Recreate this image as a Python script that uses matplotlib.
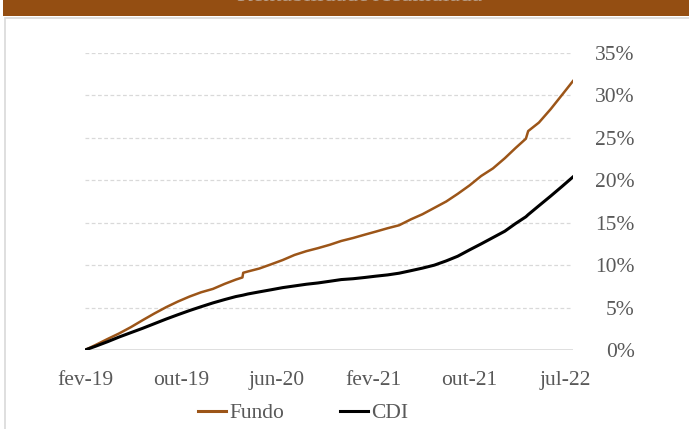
import matplotlib
matplotlib.use("Agg")
import matplotlib.pyplot as plt
import matplotlib.dates as mdates
from matplotlib.patches import Rectangle
from matplotlib.lines import Line2D
import pandas as pd

dates = ["2019-02-01", "2019-03-01", "2019-04-01", "2019-05-01", "2019-06-01", "2019-07-01",
         "2019-08-01", "2019-09-01", "2019-10-01", "2019-11-01", "2019-12-01", "2020-01-01",
         "2020-02-01", "2020-03-01", "2020-03-18", "2020-03-20", "2020-04-01", "2020-05-01",
         "2020-06-01", "2020-07-01", "2020-08-01", "2020-09-01", "2020-10-01", "2020-11-01",
         "2020-12-01", "2021-01-01", "2021-02-01", "2021-03-01", "2021-04-01", "2021-05-01",
         "2021-06-01", "2021-07-01", "2021-08-01", "2021-09-01", "2021-10-01", "2021-11-01",
         "2021-12-01", "2022-01-01", "2022-02-01", "2022-03-01", "2022-03-28", "2022-04-03",
         "2022-05-01", "2022-06-01", "2022-07-01", "2022-07-29"]

fundo = [0.0, 0.6, 1.3, 1.95, 2.7, 3.5,
         4.3, 5.05, 5.7, 6.3, 6.8, 7.2,
         7.8, 8.3, 8.55, 9.1, 9.25, 9.6,
         10.1, 10.6, 11.2, 11.65, 12.0, 12.4,
         12.85, 13.2, 13.6, 13.95, 14.35, 14.7,
         15.4, 16.0, 16.75, 17.5, 18.4, 19.4,
         20.5, 21.4, 22.6, 23.8, 24.9, 25.8,
         26.8, 28.4, 30.1, 31.7]

cdi = [0.0, 0.45, 0.98, 1.53, 2.05, 2.55,
       3.1, 3.65, 4.15, 4.65, 5.1, 5.55,
       5.95, 6.3, 6.45, 6.47, 6.6, 6.85,
       7.1, 7.35, 7.55, 7.75, 7.9, 8.1,
       8.3, 8.4, 8.55, 8.7, 8.85, 9.05,
       9.35, 9.65, 10.0, 10.5, 11.05, 11.8,
       12.5, 13.25, 14.0, 14.9, 15.7, 15.95,
       17.0, 18.15, 19.3, 20.4]

tick_dates = ["2019-02-01", "2019-10-10", "2020-06-16", "2021-02-22", "2021-10-31", "2022-07-08"]
tick_labels = ["fev-19", "out-19", "jun-20", "fev-21", "out-21", "jul-22"]
y_ticks = [0, 5, 10, 15, 20, 25, 30, 35]
y_labels = ["0%", "5%", "10%", "15%", "20%", "25%", "30%", "35%"]
series_names = ["Fundo", "CDI"]
title = "Rentabilidade Acumulada"

W, H = 689, 429
fig = plt.figure(figsize=(W / 100, H / 100), dpi=100)
fig.patch.set_facecolor("white")

brown = "#944E12"
line_brown = "#9C5518"
gray_txt = "#595959"
grid_c = "#D9D9D9"
font = "Liberation Serif"
fs = 15.5

# header bar and panel border
fig.patches.append(Rectangle((3 / W, 1 - 16 / H), 1, 16 / H, transform=fig.transFigure,
                             facecolor=brown, edgecolor="none", zorder=-2))
fig.patches.append(Rectangle((4.5 / W, -0.1), 1.2, 1 - 17.5 / H + 0.1, transform=fig.transFigure,
                             facecolor="white", edgecolor=grid_c, linewidth=1.2, zorder=-2))
fig.text(360 / W, 1 - 1.0 / H, title, ha="center", va="baseline", color="#B89E88",
         fontsize=17, family=font, zorder=-1)

ax = fig.add_axes([85 / W, 1 - 350 / H, (573 - 85) / W, (350 - 53) / H])
ax.set_zorder(2)
ax.set_facecolor("none")

x = pd.to_datetime(dates)
ax.plot(x, fundo, color=line_brown, linewidth=1.8, zorder=3)
ax.plot(x, cdi, color="black", linewidth=2.2, zorder=4)

ax.set_xlim(x[0], x[-1])
ax.set_ylim(0, 35)

ax.set_yticks(y_ticks)
ax.set_yticklabels(y_labels)
ax.yaxis.tick_right()
ax.tick_params(axis="y", length=0, pad=44.5, labelsize=fs, labelcolor=gray_txt)
for lab in ax.get_yticklabels():
    lab.set_horizontalalignment("right")
    lab.set_family(font)

tx = mdates.date2num(pd.to_datetime(tick_dates))
ax.set_xticks(tx)
ax.set_xticklabels(tick_labels)
ax.tick_params(axis="x", length=0, pad=15, labelsize=fs, labelcolor=gray_txt)
for lab in ax.get_xticklabels():
    lab.set_family(font)

for s in ax.spines.values():
    s.set_visible(False)

for v in y_ticks[1:]:
    ax.axhline(v, color=grid_c, linewidth=0.9, linestyle=(0, (3, 2)), zorder=1)
ax.axhline(0, color=grid_c, linewidth=1.2, zorder=1)

handles = [Line2D([0], [0], color=line_brown, linewidth=2.2),
           Line2D([0], [0], color="black", linewidth=2.2)]
leg = fig.legend(handles, series_names, loc="center", bbox_to_anchor=(303 / W, 1 - 413 / H),
                 ncol=2, frameon=False, handlelength=1.3, handletextpad=0.15,
                 columnspacing=2.6, prop={"family": font, "size": fs})
for t in leg.get_texts():
    t.set_color(gray_txt)

fig.savefig("out.png", dpi=100, facecolor="white")
